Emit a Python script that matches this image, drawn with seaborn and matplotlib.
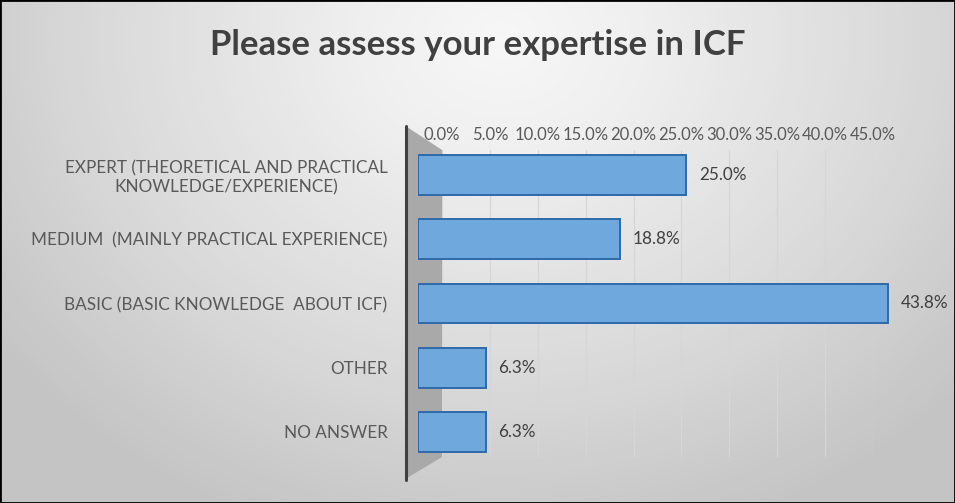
import matplotlib
matplotlib.use("Agg")
import matplotlib.pyplot as plt
import numpy as np
import pandas as pd
import seaborn as sns
from matplotlib.patches import Polygon, Rectangle

categories = [
    "EXPERT (THEORETICAL AND PRACTICAL\nKNOWLEDGE/EXPERIENCE)",
    "MEDIUM  (MAINLY PRACTICAL EXPERIENCE)",
    "BASIC (BASIC KNOWLEDGE  ABOUT ICF)",
    "OTHER",
    "NO ANSWER",
]
values = [25.0, 18.8, 43.8, 6.3, 6.3]
tick_values = [0, 5, 10, 15, 20, 25, 30, 35, 40, 45]
tick_labels = [f"{t:.1f}%" for t in tick_values]
title = "Please assess your expertise in ICF"

W, H = 955, 503
sns.set_theme(style="white")
plt.rcParams["font.family"] = ["Lato", "DejaVu Sans"]

fig = plt.figure(figsize=(W / 100, H / 100), dpi=100)


def fx(px):
    return px / W


def fy(py):
    return 1 - py / H


# soft grey radial background
bg = fig.add_axes([0, 0, 1, 1], zorder=-10)
yy, xx = np.mgrid[0:H, 0:W]
r = np.sqrt(((xx - 500) / 620.0) ** 2 + ((yy - 40) / 520.0) ** 2)
bg.imshow(np.clip(r, 0, 1), cmap="Greys", vmin=-0.25, vmax=3.4, aspect="auto",
          extent=[0, 1, 0, 1], origin="upper")
bg.set_axis_off()

# back wall: gridlines and top tick labels
back = fig.add_axes([fx(442), fy(457), fx(873 - 442), fy(150) - fy(457)], zorder=-5)
back.patch.set_alpha(0)
back.set_xlim(0, 45)
back.set_ylim(0, 1)
back.set_xticks(tick_values)
back.set_xticklabels(tick_labels)
back.xaxis.tick_top()
back.tick_params(axis="x", length=0, pad=5, labelsize=12, labelcolor="#595959")
back.set_yticks([])
back.grid(axis="x", color="#d6d6d6", lw=0.9)
for s in back.spines.values():
    s.set_visible(False)

# left grey side wall
wall = Polygon([(fx(407), fy(127)), (fx(442), fy(150)), (fx(442), fy(457)),
                (fx(407), fy(478))], closed=True, transform=fig.transFigure,
               facecolor="#a9a9a9", edgecolor="none", zorder=-4)
fig.add_artist(wall)
fig.add_artist(plt.Line2D([fx(406), fx(406)], [fy(126), fy(480)],
                          transform=fig.transFigure, color="#404040", lw=2.2, zorder=-3))

# front bars
ax = fig.add_axes([fx(418), fy(464), fx(901 - 418), fy(143) - fy(464)], zorder=0)
ax.patch.set_alpha(0)
df = pd.DataFrame({"category": categories, "value": values})
sns.barplot(data=df, x="value", y="category", orient="h", ax=ax, color="#6fa8dc",
            width=0.62, edgecolor="#2f6aa8", linewidth=1.4, saturation=1)
ax.set_xlim(0, 45)
ax.set_xlabel("")
ax.set_ylabel("")
ax.set_xticks([])
for s in ax.spines.values():
    s.set_visible(False)
ax.tick_params(axis="y", length=0, pad=22, labelsize=12.3, labelcolor="#595959")
for lab in ax.get_yticklabels():
    lab.set_multialignment("center")

for i, v in enumerate(values):
    ax.annotate(f"{v:.1f}%", (v, i), xytext=(9, 0), textcoords="offset points",
                va="center", ha="left", fontsize=12.3, color="#404040")

fig.text(0.5, fy(45), title, ha="center", va="center", fontsize=25,
         fontweight="bold", color="#404040")

fig.add_artist(Rectangle((0, 0), 1, 1, transform=fig.transFigure, fill=False,
                         edgecolor="black", lw=2))

fig.savefig("out.png", dpi=100)
